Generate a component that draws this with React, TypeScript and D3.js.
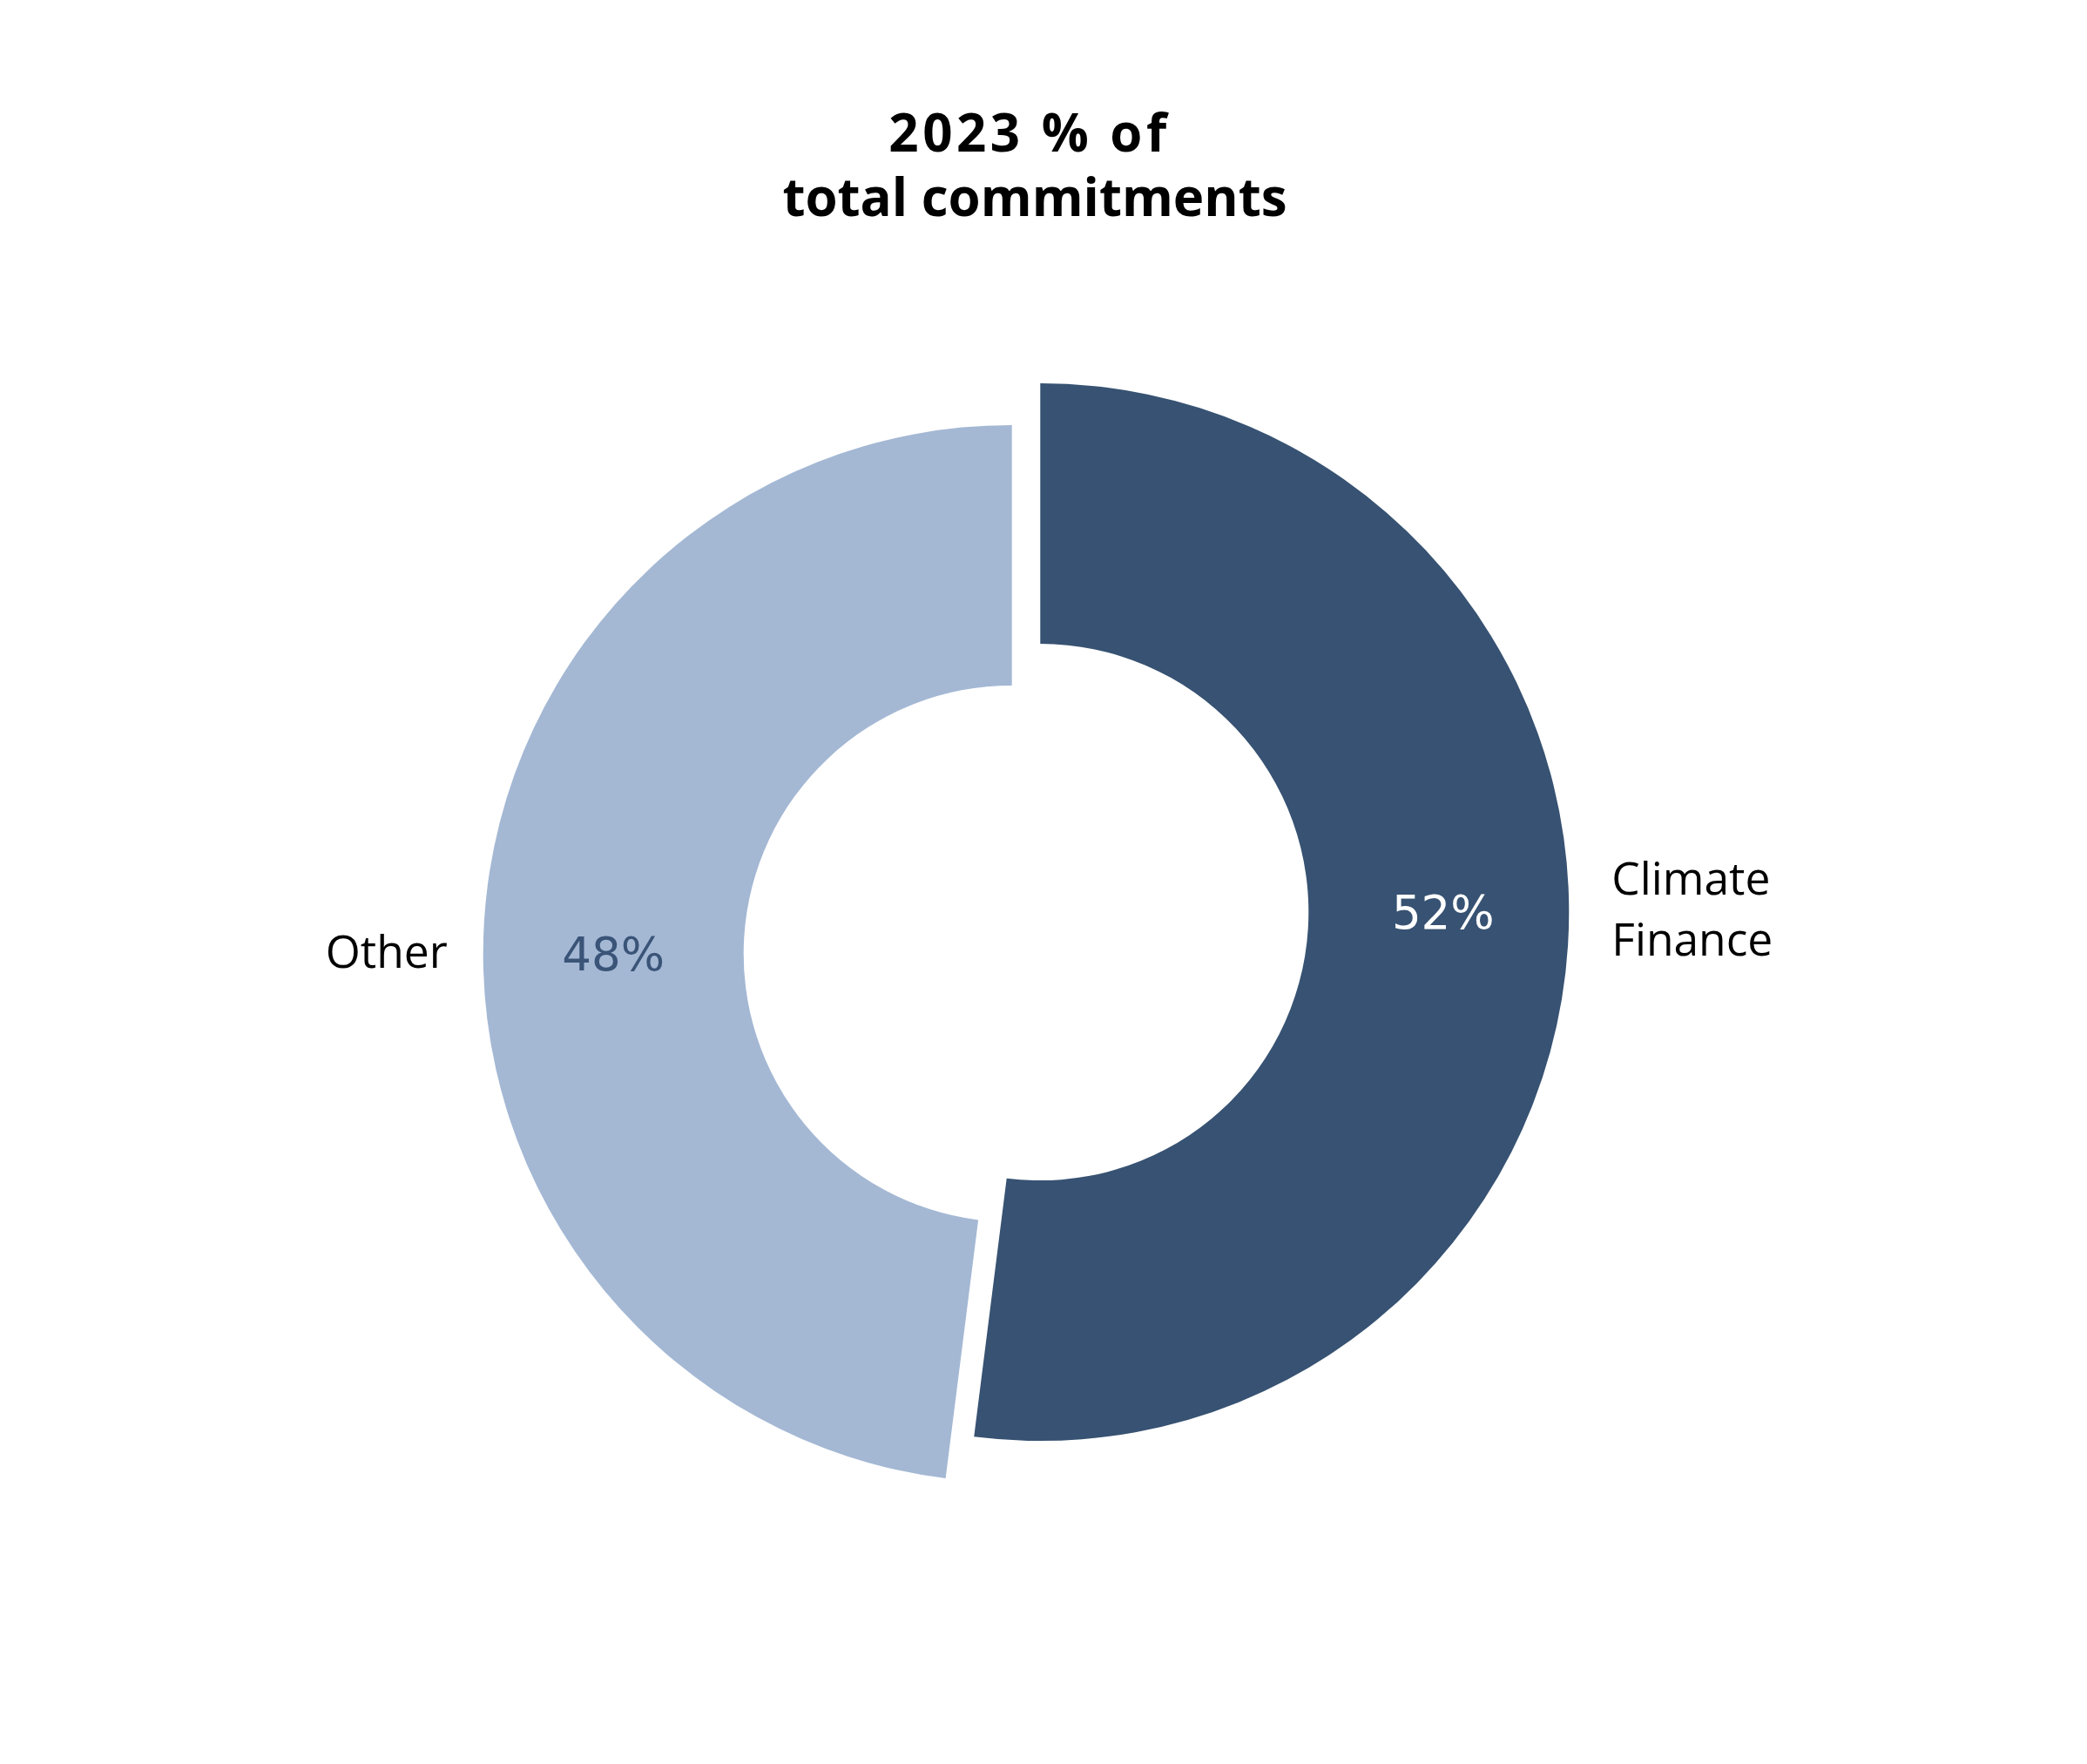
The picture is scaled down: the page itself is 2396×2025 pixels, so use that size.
import React from "react";
import * as d3 from "d3";

const categories = ["Climate Finance", "Other"];
const values = [52, 48];
const percentLabels = ["52%", "48%"];
const titleLines = ["2023 % of", "total commitments"];

const W = 2396;
const H = 2025;
const BASE = { x: 1178, y: 1071 };
const OUTER = 607;
const INNER = 308;
const OFFSETS = [
  { dx: 16.3, dy: -23.9 },
  { dx: -16.3, dy: 23.9 },
];
const FILLS = ["#375272", "#a4b8d4"];
const PCT_FILLS = ["#ffffff", "#3a5478"];

export default function App() {
  const pie = d3
    .pie<number>()
    .sort(null)
    .startAngle(0)
    .endAngle(2 * Math.PI)
    .value((d) => d);
  const arcs = pie(values);
  const arc = d3.arc<d3.PieArcDatum<number>>().innerRadius(INNER).outerRadius(OUTER);
  const mid = (INNER + OUTER) / 2;

  return (
    <svg
      width={W}
      height={H}
      style={{ position: "absolute", left: 0, top: 0, background: "#fff" }}
    >
      <rect width={W} height={H} fill="#fff" />
      <g fontFamily="'Open Sans', sans-serif" fontWeight={700} fontSize={60} textAnchor="middle" fill="#000">
        <text x={1182} y={174} letterSpacing={4.5}>{titleLines[0]}</text>
        <text x={1188} y={248}>{titleLines[1]}</text>
      </g>
      {arcs.map((a, i) => {
        const cx = BASE.x + OFFSETS[i].dx;
        const cy = BASE.y + OFFSETS[i].dy;
        const side = i === 0 ? 1 : -1;
        return (
          <g key={categories[i]} transform={`translate(${cx},${cy})`}>
            <path d={arc(a) || ""} fill={FILLS[i]} />
            <text
              x={side * mid + (i === 0 ? 5 : 0)}
              y={19}
              textAnchor="middle"
              fontFamily="'DejaVu Sans', sans-serif"
              fontSize={53}
              fill={PCT_FILLS[i]}
            >
              {percentLabels[i]}
            </text>
          </g>
        );
      })}
      <g fontFamily="'Open Sans', sans-serif" fontSize={51.5} fill="#000">
        {(() => {
          const cx0 = BASE.x + OFFSETS[0].dx;
          const cy0 = BASE.y + OFFSETS[0].dy;
          const cx1 = BASE.x + OFFSETS[1].dx;
          const cy1 = BASE.y + OFFSETS[1].dy;
          const words = categories[0].split(" ");
          return (
            <>
              <text x={cx0 + OUTER + 49} y={cy0 - 20} textAnchor="start">{words[0]}</text>
              <text x={cx0 + OUTER + 49} y={cy0 + 50} textAnchor="start">{words[1]}</text>
              <text x={cx1 - OUTER - 41} y={cy1 + 16} textAnchor="end">{categories[1]}</text>
            </>
          );
        })()}
      </g>
    </svg>
  );
}
